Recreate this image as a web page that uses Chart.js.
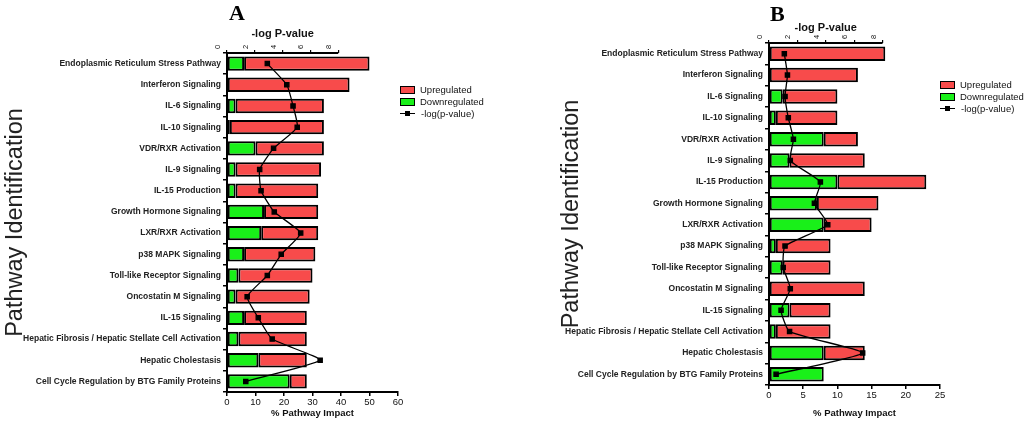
<!DOCTYPE html>
<html>
<head>
<meta charset="utf-8">
<script src="https://cdn.jsdelivr.net/npm/chart.js@4"></script>
<style>
  body { margin: 0; background: #fff; font-family: Arial, "Liberation Sans", sans-serif; }
  #wrap { position: relative; width: 1024px; height: 423px; overflow: hidden; }
  canvas { position: absolute; top: 0; }
  .panel-title { position: absolute; font: bold 22px "Times New Roman", "Liberation Serif", serif; color: #000; }
  .legend { position: absolute; font-size: 9.5px; color: #111; line-height: 12px; }
  .legend div { height: 12px; white-space: nowrap; }
  .sw { display: inline-block; width: 13px; height: 6px; border: 1.5px solid #000; margin-right: 5px; vertical-align: -1px; }
  .ln { display: inline-block; position: relative; width: 15px; height: 1.5px; background: #000; margin-right: 6px; vertical-align: 3px; }
  .ln:after { content: ""; position: absolute; left: 5px; top: -2px; width: 5px; height: 5px; background: #000; }
</style>
</head>
<body>
<div id="wrap">
  <canvas id="chartA" width="512" height="423" style="left:0"></canvas>
  <canvas id="chartB" width="512" height="423" style="left:512px"></canvas>
  <div class="panel-title" style="left:229px; top:0">A</div>
  <div class="panel-title" style="left:770px; top:1px">B</div>
  <div class="legend" style="left:400px; top:84px">
    <div><span class="sw" style="background:#f84b4b"></span>Upregulated</div>
    <div><span class="sw" style="background:#19f019"></span>Downregulated</div>
    <div><span class="ln"></span>-log(p-value)</div>
  </div>
  <div class="legend" style="left:940px; top:79px">
    <div><span class="sw" style="background:#f84b4b"></span>Upregulated</div>
    <div><span class="sw" style="background:#19f019"></span>Downregulated</div>
    <div><span class="ln"></span>-log(p-value)</div>
  </div>
</div>
<script>
// pathway names (same order for both panels)
const pathways = [
  "Endoplasmic Reticulum Stress Pathway", "Interferon Signaling", "IL-6 Signaling",
  "IL-10 Signaling", "VDR/RXR Activation", "IL-9 Signaling", "IL-15 Production",
  "Growth Hormone Signaling", "LXR/RXR Activation", "p38 MAPK Signaling",
  "Toll-like Receptor Signaling", "Oncostatin M Signaling", "IL-15 Signaling",
  "Hepatic Fibrosis / Hepatic Stellate Cell Activation", "Hepatic Cholestasis",
  "Cell Cycle Regulation by BTG Family Proteins"
];

// panel A
const downA = [6, 0, 3, 1, 10, 3, 3, 13, 12, 6, 4, 3, 6, 4, 11, 22];
const upA   = [44, 43, 31, 33, 24, 30, 29, 19, 20, 25, 26, 26, 22, 24, 17, 6];
const pvalA = [2.9, 4.3, 4.75, 5.05, 3.35, 2.35, 2.45, 3.4, 5.3, 3.9, 2.9, 1.45, 2.25, 3.25, 6.7, 1.35];

// panel B
const downB = [0, 0, 2, 1, 8, 3, 10, 7, 8, 1, 2, 0, 3, 1, 8, 8];
const upB   = [17, 13, 8, 9, 5, 11, 13, 9, 7, 8, 7, 14, 6, 8, 6, 0];
const pvalB = [1.08, 1.3, 1.13, 1.36, 1.72, 1.5, 3.62, 3.2, 4.14, 1.13, 1.0, 1.5, 0.85, 1.45, 6.6, 0.5];

// axis ticks
const impactMaxA = 60, impactStepA = 10;
const impactMaxB = 25, impactStepB = 5;
const pTickMax = 8, pTickStep = 2;

const RED = '#f84b4b', GREEN = '#19f019';
const FONT = "Arial, 'Liberation Sans', sans-serif";

// top -log P axis only runs 0..8, so draw its line and title ourselves
const topAxisLine = {
  id: 'topAxisLine',
  afterDraw(chart, args, opts) {
    const s = chart.scales.x2, c = chart.ctx;
    const x0 = s.getPixelForValue(0), x1 = s.getPixelForValue(pTickMax);
    c.save();
    c.strokeStyle = '#000';
    c.lineWidth = 2;
    c.beginPath();
    c.moveTo(x0 - 1, s.bottom);
    c.lineTo(x1, s.bottom);
    c.stroke();
    c.fillStyle = '#111';
    c.font = 'bold 11px ' + FONT;
    c.textAlign = 'center';
    c.fillText('-log P-value', (x0 + x1) / 2, s.bottom - opts.titleGap);
    c.restore();
  }
};

function makePanel(id, down, up, pval, o) {
  return new Chart(document.getElementById(id), {
    type: 'bar',
    data: {
      labels: pathways,
      datasets: [{
        type: 'line',
        label: '-log(p-value)',
        indexAxis: 'y',
        data: pval,
        xAxisID: 'x2',
        borderColor: '#000',
        backgroundColor: '#000',
        borderWidth: 1.3,
        pointStyle: 'rect',
        pointRadius: 3,
        tension: 0.15,
        order: 0
      }, {
        label: 'Downregulated',
        data: down,
        xAxisID: 'x',
        backgroundColor: GREEN,
        borderColor: '#000',
        borderWidth: 2,
        borderSkipped: false,
        categoryPercentage: 1,
        barPercentage: 0.68,
        order: 1
      }, {
        label: 'Upregulated',
        data: up,
        xAxisID: 'x',
        backgroundColor: RED,
        borderColor: '#000',
        borderWidth: 2,
        borderSkipped: false,
        categoryPercentage: 1,
        barPercentage: 0.68,
        order: 1
      }]
    },
    options: {
      indexAxis: 'y',
      responsive: false,
      animation: false,
      layout: { padding: { left: o.padLeft, right: o.padRight, top: 0, bottom: 0 } },
      plugins: {
        legend: { display: false },
        tooltip: { enabled: false },
        topAxisLine: { titleGap: o.titleGap }
      },
      scales: {
        x: {
          position: 'bottom',
          stacked: true,
          min: 0,
          max: o.max,
          ticks: { stepSize: o.step, color: '#111', font: { size: 9.5, family: FONT }, padding: 1 },
          grid: { drawOnChartArea: false, color: '#000', tickLength: 4, lineWidth: 1.5 },
          border: { color: '#000', width: 2 },
          title: { display: true, text: '% Pathway Impact', color: '#111',
                   font: { size: 9.5, weight: 'bold', family: FONT }, padding: { top: 1 } },
          afterFit(s) { s.height = o.bottomH; }
        },
        x2: {
          position: 'top',
          min: 0,
          max: o.pMax,
          ticks: { stepSize: pTickStep, minRotation: 90, maxRotation: 90, color: '#111',
                   font: { size: 7.5, family: FONT }, padding: 1 },
          afterBuildTicks(s) { s.ticks = s.ticks.filter(t => t.value <= pTickMax); },
          grid: { drawOnChartArea: false, color: '#000', tickLength: 3, lineWidth: 1.2 },
          border: { display: false },
          afterFit(s) { s.height = o.topH; }
        },
        y: {
          stacked: true,
          ticks: { color: '#222', font: { size: 8.5, weight: 'bold', family: FONT }, padding: 2, autoSkip: false },
          grid: { drawOnChartArea: false, color: '#000', tickLength: 4, lineWidth: 1.5 },
          border: { color: '#000', width: 2 },
          title: { display: true, text: 'Pathway Identification', color: '#222',
                   font: { size: 23.5, family: FONT }, padding: { top: 1, bottom: 0 } },
          afterFit(s) { s.width = o.yW; }
        }
      }
    },
    plugins: [topAxisLine]
  });
}

makePanel('chartA', downA, upA, pvalA, {
  padLeft: 0, padRight: 114, yW: 227, topH: 53, bottomH: 31,
  max: impactMaxA, step: impactStepA, pMax: 12.3, titleGap: 16
});
makePanel('chartB', downB, upB, pvalB, {
  padLeft: 44, padRight: 84, yW: 213, topH: 43, bottomH: 38,
  max: impactMaxB, step: impactStepB, pMax: 12.05, titleGap: 12
});
</script>
</body>
</html>
